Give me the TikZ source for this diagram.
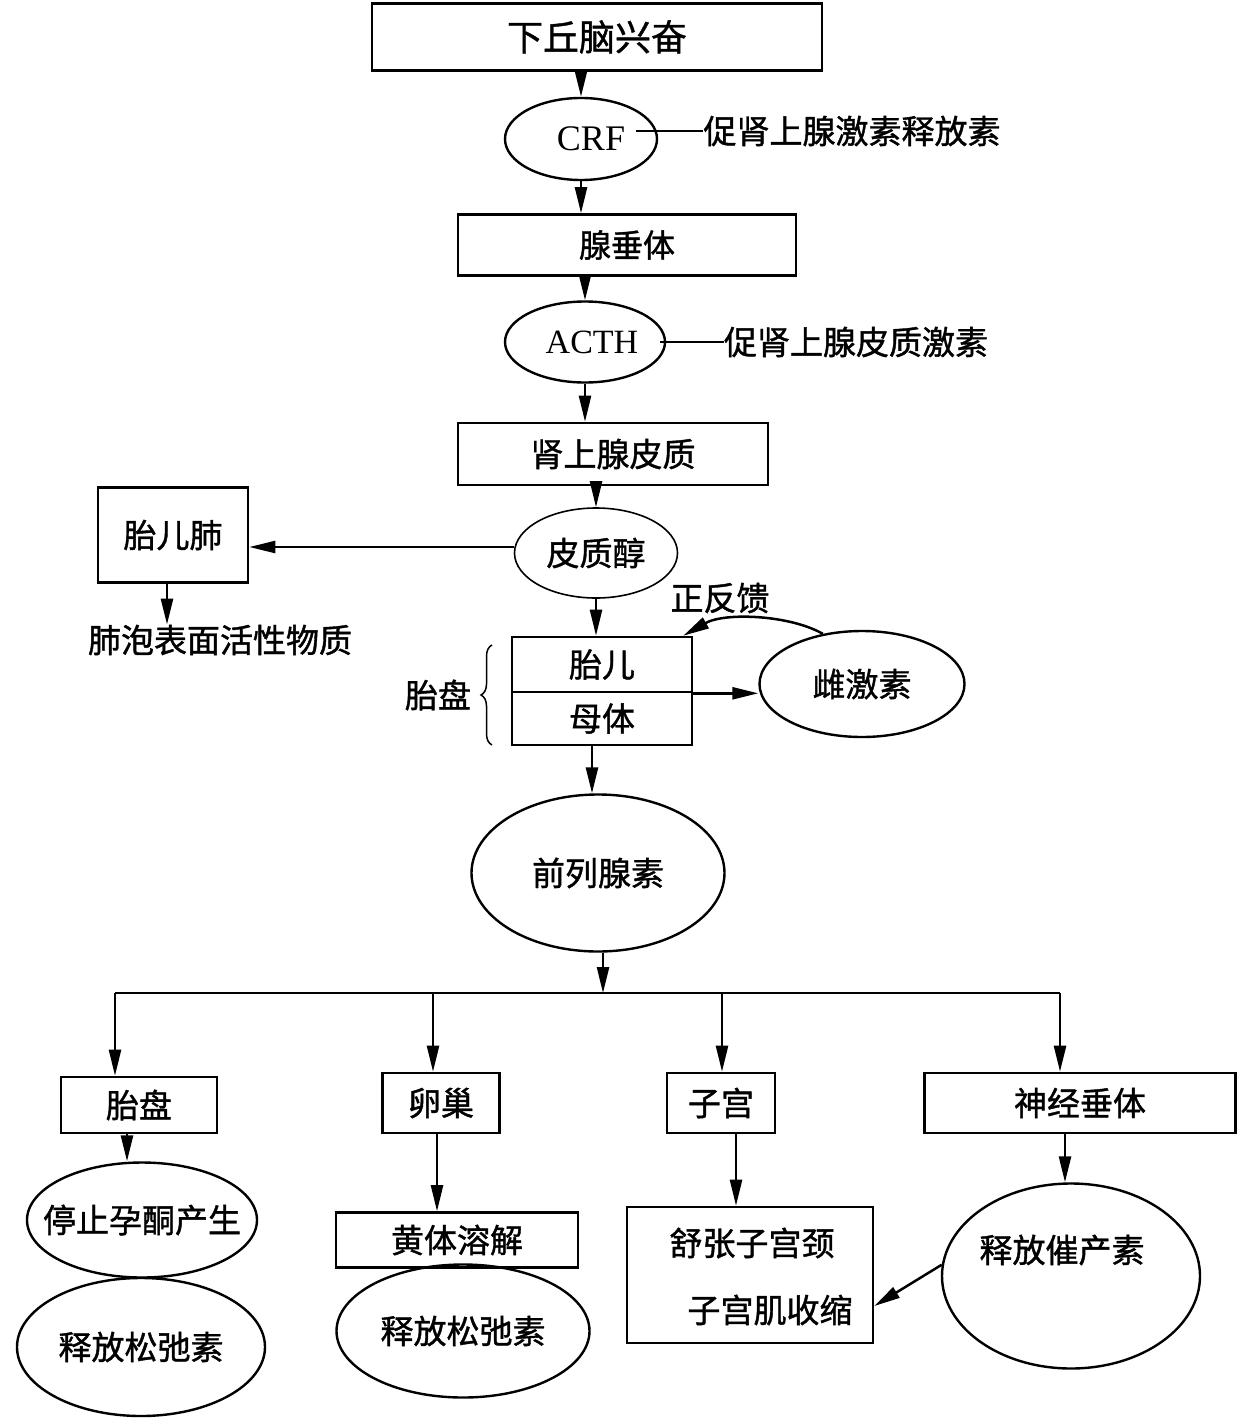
\documentclass[tikz,border=0pt]{standalone}
\usepackage{fontspec}
\setmainfont{Noto Sans CJK SC}[FakeBold=1.2]
\newfontfamily\latf{Liberation Serif}
\usetikzlibrary{arrows.meta,shapes.geometric,decorations.pathreplacing}
\begin{document}
\begin{tikzpicture}[x=1pt,y=-1pt,
 every node/.style={font=\fontsize{33}{38}\selectfont},
 boxn/.style={draw,rectangle,line width=2.6pt,inner sep=0pt},
 elln/.style={draw,ellipse,line width=2.4pt,inner sep=0pt},
 txt/.style={inner sep=0pt},
 arr/.style={line width=2.5pt,-{Triangle[length=26pt,width=12pt]}},
 ln/.style={line width=2.5pt}]
\useasboundingbox (0,0) rectangle (1237,1418);
% top chain
\node[boxn,minimum width=450pt,minimum height=67pt,font=\fontsize{36}{40}\selectfont] (hyp) at (597,37) {下丘脑兴奋};
\node[elln,minimum width=152pt,minimum height=82pt,font=\latf\fontsize{36}{40}\selectfont] (crf) at (581,139) {\hspace{20pt}CRF};
\node[txt] (crfl) at (852,131) {促肾上腺激素释放素};
\coordinate (crfs) at (636,131);
\node[boxn,minimum width=338pt,minimum height=61pt,font=\fontsize{32}{38}\selectfont] (pit) at (627,245) {腺垂体};
\node[elln,minimum width=160pt,minimum height=81pt,font=\latf\fontsize{34}{40}\selectfont] (acth) at (585,342) {\hspace{14pt}ACTH};
\node[txt] (acthl) at (856,342) {促肾上腺皮质激素};
\coordinate (acths) at (660,342);
\node[boxn,minimum width=310pt,minimum height=62pt] (adr) at (613,454) {肾上腺皮质};
\node[elln,minimum width=163pt,minimum height=90pt,line width=1.6pt] (cort) at (596,553) {皮质醇};
\node[boxn,minimum width=150pt,minimum height=95pt] (lung) at (173,535) {胎儿肺};
\node[txt] (surf) at (220,640) {肺泡表面活性物质};
% placenta
\node[boxn,minimum width=180pt,minimum height=55pt] (fet) at (602,664.5) {胎儿};
\node[boxn,minimum width=180pt,minimum height=53pt] (mat) at (602,718.5) {母体};
\node[txt] (placl) at (438,695) {胎盘};
\node[txt] (fb) at (720,598) {正反馈};
\node[elln,minimum width=205pt,minimum height=106pt] (est) at (862,684) {雌激素};
\node[elln,minimum width=253pt,minimum height=157pt] (pg) at (598,873) {前列腺素};
% bottom row
\node[boxn,minimum width=156pt,minimum height=56pt] (b1) at (139,1105) {胎盘};
\node[boxn,minimum width=117pt,minimum height=60pt] (b2) at (441,1103) {卵巢};
\node[boxn,minimum width=108pt,minimum height=60pt] (b3) at (721,1103) {子宫};
\node[boxn,minimum width=311pt,minimum height=60pt] (b4) at (1080,1103) {神经垂体};
\node[elln,minimum width=230pt,minimum height=115pt] (e1) at (142,1220) {};
\node[txt] (e1t) at (142,1220) {停止孕酮产生};
\node[elln,minimum width=248pt,minimum height=138pt] (e2) at (141,1347) {释放松弛素};
\node[boxn,minimum width=242pt,minimum height=55pt] (c1) at (457,1240) {黄体溶解};
\node[elln,minimum width=253pt,minimum height=133pt] (e3) at (463,1331) {释放松弛素};
\node[boxn,minimum width=246pt,minimum height=136pt] (c2) at (750,1275) {};
\node[txt] (c2a) at (752,1243) {舒张子宫颈};
\node[txt] (c2b) at (770,1310) {子宫肌收缩};
\node[elln,minimum width=258pt,minimum height=185pt] (e4) at (1071,1276) {};
\node[txt] (e4t) at (1062,1250) {释放催产素};
% connectors
\draw[arr] (hyp.south -| crf.north) -- (crf.north);
\draw[ln] (crfs) -- (crfl.west);
\draw[arr] (crf.south) -- (crf.south |- pit.north);
\draw[arr] (acth.north |- pit.south) -- (acth.north);
\draw[ln] (acths) -- (acthl.west);
\draw[arr] (acth.south) -- (acth.south |- adr.north);
\draw[arr] (cort.north |- adr.south) -- (cort.north);
\draw[arr] ([yshift=6pt]cort.west) -- ([yshift=6pt]cort.west -| lung.east);
\draw[arr] ([xshift=-6pt]lung.south) -- ([xshift=-6pt]lung.south |- surf.north);
\draw[arr] (cort.south) -- (cort.south |- fet.north);
\draw[line width=1.5pt,decorate,decoration={brace,amplitude=11pt}] (492,745) -- (492,645);
\draw[arr] (est.128) .. controls (790,615) and (725,612) .. ([xshift=-10pt]fet.north east);
\draw[arr] (fet.south east) -- (fet.south east -| est.west);
\draw[arr] ([xshift=-10pt]mat.south) -- ([xshift=-10pt]mat.south |- pg.north);
\coordinate (busL) at (115,993);
\coordinate (busR) at (1060,993);
\coordinate (d2) at (433,993);
\coordinate (d3) at (722,993);
\draw[arr] ([xshift=5pt]pg.south) -- ([xshift=5pt]pg.south |- busL);
\draw[ln] (busL) -- (busR);
\draw[arr] (busL) -- (busL |- b1.north);
\draw[arr] (d2) -- (d2 |- b2.north);
\draw[arr] (d3) -- (d3 |- b3.north);
\draw[arr] (busR) -- (busR |- b4.north);
\draw[arr] ([xshift=-12pt]b1.south) -- ([xshift=-12pt]b1.south |- e1.north);
\draw[arr] ([xshift=-4pt]b2.south) -- ([xshift=-4pt]b2.south |- c1.north);
\draw[arr] ([xshift=15pt]b3.south) -- ([xshift=15pt]b3.south |- c2.north);
\draw[arr] ([xshift=-15pt]b4.south) -- ([xshift=-15pt]b4.south |- e4.north);
\draw[arr] (e4.175) -- ([yshift=-31pt]c2.east);
\end{tikzpicture}
\end{document}
